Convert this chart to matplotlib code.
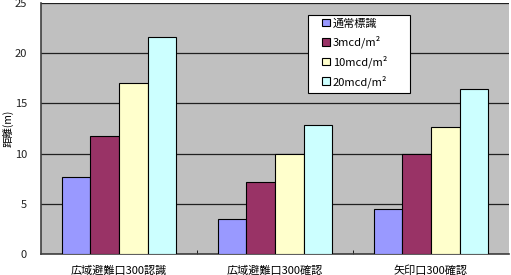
import matplotlib.pyplot as plt
from matplotlib.patches import Rectangle
import numpy as np

plt.rcParams['font.family'] = ['Noto Sans CJK JP', 'DejaVu Sans']

categories = ['広域避難口300認識', '広域避難口300確認', '矢印口300確認']
series_names = ['通常標識', '3mcd/m²', '10mcd/m²', '20mcd/m²']
values = [
    [7.7, 3.5, 4.5],
    [11.8, 7.2, 10.0],
    [17.0, 10.0, 12.6],
    [21.6, 12.8, 16.4],
]
colors = ['#9999FF', '#993366', '#FFFFCC', '#CCFFFF']

fig = plt.figure(figsize=(5.11, 2.75), dpi=100)
ax = fig.add_axes([41 / 511, 21 / 275, 468 / 511, 251 / 275])
ax.set_facecolor('#C0C0C0')

x = np.arange(len(categories))
bw = 0.183
for i, (name, vals, c) in enumerate(zip(series_names, values, colors)):
    ax.bar(x + (i - 1.5) * bw, vals, bw, color=c, edgecolor='black',
           linewidth=0.8, label=name, zorder=3)

ax.set_xlim(-0.5, len(categories) - 0.5)
ax.set_ylim(0, 25)
ax.set_yticks(range(0, 26, 5))
ax.yaxis.grid(True, color='#202020', linewidth=0.9, zorder=0)
ax.set_axisbelow(True)

ax.set_xticks(x)
ax.set_xticklabels(categories, fontsize=8)
ax.tick_params(axis='x', length=0, pad=8)
ax.set_xticks(x[:-1] + 0.5, minor=True)
ax.tick_params(axis='x', which='minor', direction='in', length=3, color='black')
ax.tick_params(axis='y', labelsize=8, length=0, pad=10, labelcolor='#202020')

for s in ['top', 'right']:
    ax.spines[s].set_visible(False)
ax.spines['left'].set_color('#404040')
ax.spines['left'].set_linewidth(1.2)
ax.spines['bottom'].set_color('#404040')
ax.spines['bottom'].set_linewidth(1.2)

fig.text(8 / 511, (275 - 128) / 275, '距離(m)', fontsize=7.5, rotation=90,
         ha='center', va='center')

# legend box
ax.add_patch(Rectangle((0.571, 0.641), 0.217, 0.311, transform=ax.transAxes,
                       facecolor='white', edgecolor='black', linewidth=0.8,
                       zorder=5, clip_on=False))
leg = ax.legend(loc='upper left', bbox_to_anchor=(0.6, 0.94), fontsize=8,
                frameon=False, handlelength=0.7, handleheight=0.7,
                handletextpad=0.3, labelspacing=0.65, borderpad=0,
                borderaxespad=0)
leg.set_zorder(6)

fig.savefig('out.png', dpi=100)
